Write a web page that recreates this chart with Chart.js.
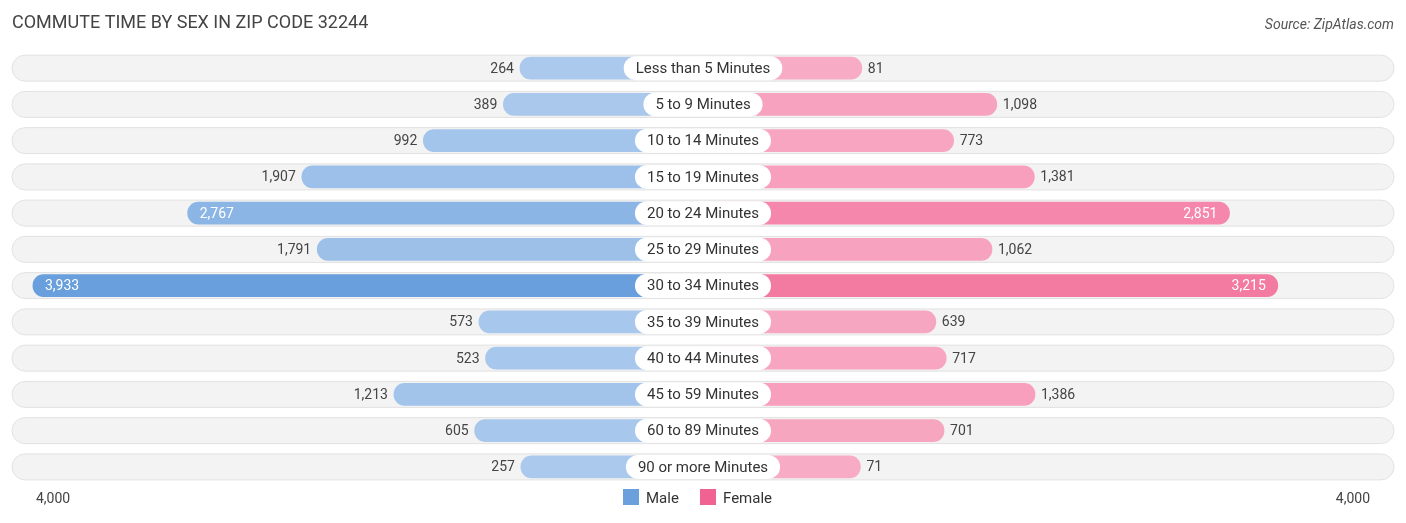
<!DOCTYPE html>
<html>
<head>
<meta charset="utf-8">
<script src="https://cdn.jsdelivr.net/npm/chart.js@4"></script>
<style>
  body { margin: 0; background: #fff; }
  #wrap { width: 1406px; height: 523px; position: relative; }
</style>
</head>
<body>
<div id="wrap"><canvas id="myChart" width="1406" height="523"></canvas></div>
<script>
var categories = ["Less than 5 Minutes", "5 to 9 Minutes", "10 to 14 Minutes", "15 to 19 Minutes",
  "20 to 24 Minutes", "25 to 29 Minutes", "30 to 34 Minutes", "35 to 39 Minutes",
  "40 to 44 Minutes", "45 to 59 Minutes", "60 to 89 Minutes", "90 or more Minutes"];
var male = [264, 389, 992, 1907, 2767, 1791, 3933, 573, 523, 1213, 605, 257];
var female = [81, 1098, 773, 1381, 2851, 1062, 3215, 639, 717, 1386, 701, 71];
var axisMax = 4000;
var gap = 1115; // room taken by the centre label, in data units

function fmt(v) { return v.toLocaleString("en-US"); }

// colour gets stronger with the value
function shade(light, strong, v) {
  var t = Math.min(1, v / 3933);
  t = t < 0.6 ? t * 0.5 : 0.3 + (t - 0.6) * 1.75;
  var c = light.map(function (l, i) { return Math.round(l + (strong[i] - l) * t); });
  return "rgb(" + c.join(",") + ")";
}
var maleColors = male.map(function (v) { return shade([172, 202, 237], [104, 159, 220], v); });
var femaleColors = female.map(function (v) { return shade([248, 172, 197], [241, 100, 146], v); });

var decor = {
  id: "decor",
  beforeDatasetsDraw: function (chart) {
    var ctx = chart.ctx, y = chart.scales.y;
    ctx.save();
    categories.forEach(function (c, i) {
      var cy = y.getPixelForValue(i);
      ctx.beginPath();
      ctx.roundRect(12, cy - 13, 1382, 26, 13);
      ctx.fillStyle = "#f3f3f3";
      ctx.fill();
      ctx.strokeStyle = "#e2e2e2";
      ctx.lineWidth = 1;
      ctx.stroke();
    });
    ctx.restore();
  },
  afterDatasetsDraw: function (chart) {
    var ctx = chart.ctx, x = chart.scales.x, y = chart.scales.y;
    var cx = x.getPixelForValue(0);
    ctx.save();
    ctx.font = "15px Roboto";
    ctx.textBaseline = "middle";
    categories.forEach(function (c, i) {
      var cy = y.getPixelForValue(i);
      var w = ctx.measureText(c).width + 24;
      ctx.beginPath();
      ctx.roundRect(cx - w / 2, cy - 12, w, 24, 12);
      ctx.fillStyle = "#fff";
      ctx.fill();
      ctx.fillStyle = "#333";
      ctx.textAlign = "center";
      ctx.fillText(c, cx, cy + 1);

      ctx.font = "14px Roboto";
      var mx = x.getPixelForValue(-gap - male[i]);
      if (male[i] > 2500) {
        ctx.fillStyle = "#fff"; ctx.textAlign = "left"; ctx.fillText(fmt(male[i]), mx + 12, cy + 1);
      } else {
        ctx.fillStyle = "#444"; ctx.textAlign = "right"; ctx.fillText(fmt(male[i]), mx - 6, cy + 1);
      }
      var fx = x.getPixelForValue(gap + female[i]);
      if (female[i] > 2500) {
        ctx.fillStyle = "#fff"; ctx.textAlign = "right"; ctx.fillText(fmt(female[i]), fx - 12, cy + 1);
      } else {
        ctx.fillStyle = "#444"; ctx.textAlign = "left"; ctx.fillText(fmt(female[i]), fx + 6, cy + 1);
      }
      ctx.font = "15px Roboto";
    });

    // title, source, axis ends, legend
    ctx.textBaseline = "alphabetic";
    ctx.font = "18px Roboto";
    ctx.fillStyle = "#444";
    ctx.textAlign = "left";
    ctx.fillText("COMMUTE TIME BY SEX IN ZIP CODE 32244", 12, 28);
    ctx.font = "italic 14px Roboto";
    ctx.fillStyle = "#555";
    ctx.textAlign = "right";
    ctx.fillText("Source: ZipAtlas.com", 1394, 29);
    ctx.font = "14px Roboto";
    ctx.fillStyle = "#444";
    ctx.textAlign = "left";
    ctx.fillText(fmt(axisMax), 36, 503);
    ctx.textAlign = "right";
    ctx.fillText(fmt(axisMax), 1370, 503);
    ctx.font = "15px Roboto";
    ctx.textAlign = "left";
    ctx.fillStyle = "#6aa0dc";
    ctx.fillRect(623, 489, 16, 16);
    ctx.fillStyle = "#333";
    ctx.fillText("Male", 646, 503);
    ctx.fillStyle = "#f06292";
    ctx.fillRect(700, 489, 16, 16);
    ctx.fillStyle = "#333";
    ctx.fillText("Female", 723, 503);
    ctx.restore();
  }
};

var canvas = document.getElementById("myChart");
var myChart = new Chart(canvas.getContext("2d"), {
  type: "bar",
  data: {
    labels: categories,
    datasets: [{
      label: "Male",
      data: male.map(function (v) { return [-gap - v, 0]; }),
      backgroundColor: maleColors,
      borderRadius: 11,
      borderSkipped: false,
      barThickness: 22,
      grouped: false
    }, {
      label: "Female",
      data: female.map(function (v) { return [0, gap + v]; }),
      backgroundColor: femaleColors,
      borderRadius: 11,
      borderSkipped: false,
      barThickness: 22,
      grouped: false
    }]
  },
  options: {
    indexAxis: "y",
    responsive: false,
    animation: false,
    layout: { padding: { top: 50, bottom: 38, left: 24, right: 24 } },
    plugins: { legend: { display: false }, tooltip: { enabled: false } },
    scales: {
      x: { display: false, min: -gap - axisMax, max: gap + axisMax },
      y: { display: false }
    }
  },
  plugins: [decor]
});
</script>
</body>
</html>
